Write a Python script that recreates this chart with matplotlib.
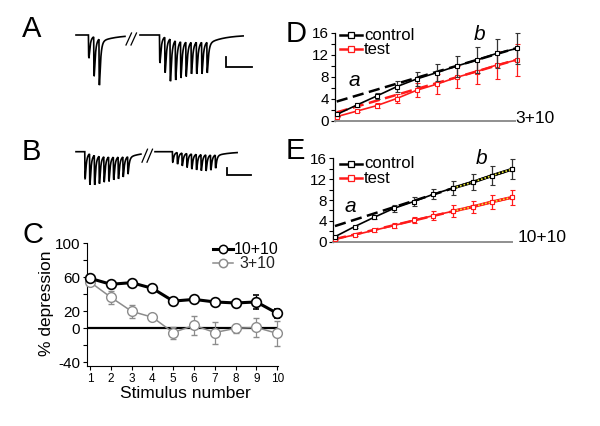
import numpy as np
import matplotlib
matplotlib.use('Agg')
import matplotlib.pyplot as plt
from matplotlib.lines import Line2D

plt.rcParams['font.family'] = ['Liberation Sans', 'DejaVu Sans']

# ------------------------------------------------------------------ data
# Panel A: EPSC trains (ms, nA)
a_left_stim = [35, 45, 55]
a_left_amp = [2.4, 4.1, 4.8]
a_right_stim = [170, 180, 190, 200, 210, 220, 230, 240, 250, 260]
a_right_amp = [2.9, 3.7, 4.4, 4.1, 3.8, 3.6, 3.3, 3.3, 3.3, 3.2]
# Panel B
b_left_stim = [31, 41, 51, 61, 71, 81, 91, 101, 111, 121]
b_left_amp = [2.0, 2.3, 2.2, 2.05, 1.9, 1.83, 1.7, 1.63, 1.5, 1.3]
b_right_stim = [215, 225, 235, 245, 255, 265, 275, 285, 295, 305]
b_right_amp = [0.78, 0.86, 0.95, 1.04, 1.13, 1.16, 1.2, 1.2, 1.13, 0.98]

# Panel C
stim_num = [1, 2, 3, 4, 5, 6, 7, 8, 9, 10]
dep_1010 = [58.8, 51.8, 53.7, 47.0, 32.0, 34.0, 31.0, 29.8, 31.0, 17.6]
err_1010 = [2, 3, 2, 2, 3, 2, 2, 2, 8, 5]
dep_310 = [54.5, 36.5, 20.0, 13.0, -5.0, 3.5, -5.0, 0.0, 1.0, -6.0]
err_310 = [3, 7.5, 8, 2, 7, 11, 13, 5, 11, 15]

# Panel D (3+10)
ctrl_D = [1.1, 2.8, 4.45, 6.15, 7.55, 8.7, 9.9, 11.0, 12.2, 13.1]
ctrl_D_err = [0.2, 0.3, 0.5, 1.0, 1.3, 1.6, 1.9, 2.3, 2.6, 2.9]
test_D = [0.7, 1.7, 2.7, 4.0, 5.5, 6.6, 7.85, 8.9, 10.1, 11.0]
test_D_err = [0.1, 0.2, 0.4, 0.8, 1.3, 1.8, 2.0, 2.3, 2.6, 2.9]
# Panel E (10+10)
ctrl_E = [0.96, 2.9, 4.7, 6.4, 7.7, 9.1, 10.3, 11.4, 12.7, 13.9]
ctrl_E_err = [0.15, 0.2, 0.4, 0.7, 0.9, 1.0, 1.4, 1.5, 1.8, 1.9]
test_E = [0.5, 1.3, 2.2, 3.1, 4.1, 5.0, 5.85, 6.7, 7.65, 8.5]
test_E_err = [0.1, 0.2, 0.3, 0.5, 0.6, 0.8, 1.2, 1.1, 1.3, 1.4]
fit_pts = [7, 8, 9, 10]   # points used for the late-phase ("b") fit

W, H = 600, 426
fig = plt.figure(figsize=(6, 4.26), dpi=100)


def box(l, t, r, b):
    return [l / W, 1 - b / H, (r - l) / W, (b - t) / H]


def fx(x, y):
    return (x / W, 1 - y / H)


RED = '#ff1a1a'


# ------------------------------------------------------------------ traces
def epsc_trace(t, stims, amps, tr=0.35, td=2.4, slow_frac=0.08, slow_td=30.0):
    tp = tr * td / (td - tr) * np.log(td / tr)
    pk = np.exp(-tp / td) - np.exp(-tp / tr)
    y = np.zeros_like(t)
    for s, a in zip(stims, amps):
        d = t - s
        m = d > 0
        y[m] -= a * (1 - slow_frac) * (np.exp(-d[m] / td) - np.exp(-d[m] / tr)) / pk
        y[m] -= a * slow_frac * (1 - np.exp(-d[m] / 1.0)) * np.exp(-d[m] / slow_td)
    return y


def trace_panel(rect, ms_px, na_px, base_px, segs, brk, bar, bar_len):
    l, t, r, b = rect
    ax = fig.add_axes(box(l, t, r, b))
    ax.set_xlim(0, (r - l) * ms_px)
    ax.set_ylim(-(b - base_px) * na_px, (base_px - t) * na_px)
    ax.axis('off')
    for (t0, t1, stims, amps) in segs:
        tt = np.arange(t0, t1, 0.05)
        ax.plot(tt, epsc_trace(tt, stims, amps), color='k', lw=1.2,
                solid_joinstyle='miter')
    # break marks
    bx, bh = brk
    for off in (0, 5 * ms_px):
        ax.plot([bx + off, bx + off + 5.5 * ms_px],
                [-bh * na_px * 0.5 - 4 * na_px, bh * na_px * 0.5 - 4 * na_px],
                color='k', lw=0.9)
    # scale bar
    sx, sy, vlen = bar
    ax.plot([sx, sx, sx + bar_len], [sy + vlen, sy, sy], color='k', lw=1.3,
            solid_joinstyle='miter')
    return ax


# A
msA = 1.9
trace_panel((70, 15, 270, 95), msA, 0.1, 35,
            [(11.4, 104.5, a_left_stim, a_left_amp),
             (133, 329, a_right_stim, a_right_amp)],
            ((126 - 70) * msA, 12), ((226 - 70) * msA, -3.2, 1.0), 50)
# B
msB = 2.1
trace_panel((70, 135, 270, 195), msB, 0.0714, 151.7,
            [(12.6, 149, b_left_stim, b_left_amp),
             (178.5, 351, b_right_stim, b_right_amp)],
            ((142 - 70) * msB, 13), ((227 - 70) * msB, -1.66, 0.5), 50)

# ------------------------------------------------------------------ C
axC = fig.add_axes(box(87.3, 243.3, 278.3, 365.7))
axC.set_xlim(0.87, 10.05)
axC.set_ylim(-44, 100)
for s in ('top', 'right'):
    axC.spines[s].set_visible(False)
for s in ('left', 'bottom'):
    axC.spines[s].set_linewidth(0.8)
axC.spines['left'].set_bounds(-44, 100)
axC.axhline(0, color='k', lw=1.6, zorder=1)
GRAY = '#8c8c8c'
axC.errorbar(stim_num, dep_310, yerr=err_310, color=GRAY, lw=1.1, marker='o',
             ms=7, mfc='white', mec=GRAY, mew=1.0, capsize=2, elinewidth=0.9,
             ecolor=GRAY, clip_on=False, zorder=3)
axC.errorbar(stim_num, dep_1010, yerr=err_1010, color='k', lw=2.2, marker='o',
             ms=7, mfc='white', mec='k', mew=1.2, capsize=2, elinewidth=0.9,
             ecolor='k', clip_on=False, zorder=4)
axC.set_yticks([-40, -20, 0, 20, 40, 60, 80, 100])
axC.set_yticklabels(['-40', '', '0', '20', '', '60', '', '100'], fontsize=11)
axC.set_xticks(stim_num)
axC.set_xticklabels([str(v) for v in stim_num], fontsize=8.5)
axC.tick_params(direction='out', length=3, width=0.8, pad=2)
fig.text(*fx(47, 303), '% depression', rotation=90, ha='center', va='center',
         fontsize=12.5)
fig.text(*fx(185, 394), 'Stimulus number', ha='center', va='center',
         fontsize=12.5)
# legend C
for (yy, lab, col, lw, tx) in ((249.5, '10+10', 'k', 2.2, 234), (263, '3+10', GRAY, 1.1, 239)):
    fig.add_artist(Line2D([213 / W, 233 / W], [1 - yy / H, 1 - yy / H], color=col, lw=lw))
    fig.add_artist(Line2D([223 / W], [1 - yy / H], marker='o', ms=6, mfc='white',
                          mec=col, mew=1.1, lw=0))
    fig.text(*fx(tx, yy), lab, ha='left', va='center', fontsize=11.5, color=col if col == 'k' else '#222222')


# ------------------------------------------------------------------ D / E
def cum_panel(rect, xl, ctrl, ctrl_e, test, test_e, overlay, tag, tagpos, apos, bpos, legy):
    ax = fig.add_axes(box(*rect))
    ax.set_xlim(*xl)
    ax.set_ylim(0, 16)
    for s in ('top', 'right'):
        ax.spines[s].set_visible(False)
    ax.spines['left'].set_linewidth(0.9)
    ax.spines['bottom'].set_color('#8f8f8f')
    ax.spines['bottom'].set_linewidth(1.4)
    ax.set_xticks([])
    ax.set_yticks(np.arange(0, 17, 2))
    ax.set_yticklabels([str(v) if v % 4 == 0 else '' for v in range(0, 17, 2)],
                       fontsize=11)
    ax.tick_params(axis='y', direction='out', length=3, width=0.8, pad=1.5)
    x = np.array(stim_num)
    # late-phase linear fits extrapolated back (dashed)
    idx = np.array(fit_pts) - 1
    for data, col in ((test, RED), (ctrl, 'k')):
        p = np.polyfit(x[idx], np.array(data)[idx], 1)
        xx = np.array([1, 10])
        ax.plot(xx, np.polyval(p, xx), color=col, lw=1.8, dashes=(4.5, 2.2),
                clip_on=False, zorder=2)
    ax.errorbar(x, test, yerr=test_e, color=RED, lw=1.2, marker='s', ms=3.5,
                mfc='white', mec=RED, mew=0.8, capsize=1.8, elinewidth=0.9,
                clip_on=False, zorder=3)
    ax.errorbar(x, ctrl, yerr=ctrl_e, color='k', lw=1.2, marker='s', ms=3.5,
                mfc='white', mec='k', mew=0.8, capsize=1.8, elinewidth=0.9,
                ecolor='#333333', clip_on=False, zorder=4)
    if overlay:
        for data, col in ((test, RED), (ctrl, 'k')):
            ax.plot(x[idx], np.array(data)[idx], color=col, lw=2.2, zorder=5,
                    clip_on=False)
            ax.plot(x[idx], np.array(data)[idx], color='#e8e830', lw=1.2,
                    dashes=(1, 1.2), zorder=6, clip_on=False)
            ax.plot(x[idx], np.array(data)[idx], ls='none', marker='s', ms=3.5,
                    mfc='white', mec=col, mew=0.8, zorder=7, clip_on=False)
    # texts
    fig.text(*fx(*tagpos), tag, ha='left', va='center', fontsize=12.5)
    fig.text(*fx(*apos), 'a', ha='center', va='center', fontsize=15, style='italic')
    fig.text(*fx(*bpos), 'b', ha='center', va='center', fontsize=15, style='italic')
    # legend
    for yy, lab, col in ((legy[0], 'control', 'k'), (legy[1], 'test', RED)):
        fig.add_artist(Line2D([340 / W, 362 / W], [1 - yy / H] * 2, color=col, lw=1.8))
        fig.add_artist(Line2D([351 / W], [1 - yy / H], marker='s', ms=4, mfc='white',
                              mec=col, mew=0.9, lw=0))
        fig.text(*fx(364, yy), lab, ha='left', va='center', fontsize=12)
    return ax


cum_panel((335, 32.5, 515, 120.5), (0.915, 9.915), ctrl_D, ctrl_D_err, test_D,
          test_D_err, False, '3+10', (515.5, 118.5), (354.5, 80), (479.5, 34),
          (35, 49.3))
cum_panel((333, 158.3, 512, 241.7), (0.9, 10.0), ctrl_E, ctrl_E_err, test_E,
          test_E_err, True, '10+10', (518, 238), (350, 206), (482, 158),
          (164, 178.3))

# panel letters
for lab, (px, py) in (('A', (31.5, 29)), ('B', (31.7, 151.5)), ('C', (32.5, 235)),
                      ('D', (296, 34)), ('E', (295, 151))):
    fig.text(*fx(px, py), lab, ha='center', va='center', fontsize=21)

fig.savefig('out.png', dpi=100)
